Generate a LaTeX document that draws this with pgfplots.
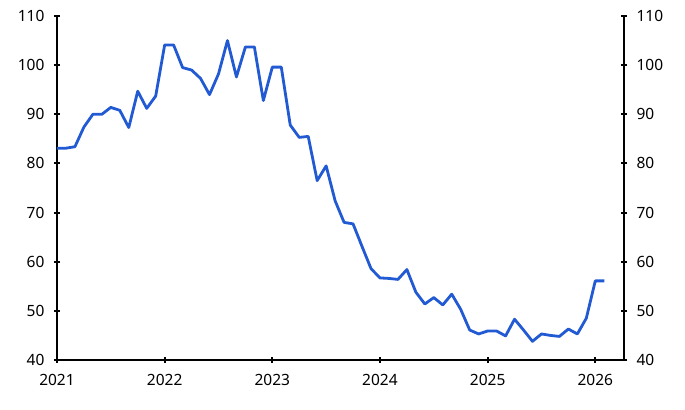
\documentclass[border=0pt]{standalone}
\usepackage{pgfplots}
\pgfplotsset{compat=1.18}
\usepackage{pgfplotstable}
\usepackage{fontspec}
\setmainfont{Noto Sans}
\definecolor{lineblue}{RGB}{33,90,210}
\pgfplotstableread{
m v
0 83.1
1 83.1
2 83.4
3 87.4
4 90.0
5 90.0
6 91.4
7 90.8
8 87.3
9 94.7
10 91.2
11 93.7
12 104.1
13 104.1
14 99.5
15 99.0
16 97.3
17 94.0
18 98.2
19 105.0
20 97.6
21 103.7
22 103.7
23 92.8
24 99.6
25 99.6
26 87.8
27 85.3
28 85.5
29 76.5
30 79.5
31 72.4
32 68.0
33 67.7
34 63.1
35 58.6
36 56.7
37 56.6
38 56.4
39 58.4
40 53.8
41 51.4
42 52.7
43 51.2
44 53.4
45 50.3
46 46.1
47 45.3
48 45.9
49 45.9
50 44.9
51 48.3
52 46.1
53 43.8
54 45.3
55 45.0
56 44.8
57 46.3
58 45.3
59 48.5
60 56.1
61 56.1
}\datatable
\begin{document}
\begin{tikzpicture}
\useasboundingbox (-57bp,-50bp) rectangle (628bp,360bp);
\pgfplotsset{
  common/.style={
    scale only axis, width=567bp, height=344bp,
    at={(0,0)}, anchor=south west,
    xmin=0, xmax=63.2, ymin=40, ymax=110,
    ytick={40,50,...,110},
    tick align=outside,
    major tick length=6bp,
    tick style={black, line width=2bp},
    tick label style={font=\fontsize{15.5bp}{18bp}\selectfont, text=black},
    /pgf/number format/assume math mode=true,
    clip=false,
  }
}
\begin{axis}[common,
  axis x line=bottom, axis y line=left,
  axis line style={-, line width=2.2bp, black},
  x axis line style={-}, y axis line style={-},
  xtick={0,12,24,36,48,60},
  xticklabels={2021,2022,2023,2024,2025,2026},
  xticklabel style={yshift=-8bp},
  yticklabel style={xshift=-6bp},
]
\addplot[lineblue, line width=2.8bp, line join=round] table[x=m,y=v]{\datatable};
\end{axis}
\begin{axis}[common,
  axis x line=none, axis y line=right,
  axis line style={-, line width=2.2bp, black},
  y axis line style={-},
  yticklabel style={xshift=6bp},
]
\end{axis}
\end{tikzpicture}
\end{document}
